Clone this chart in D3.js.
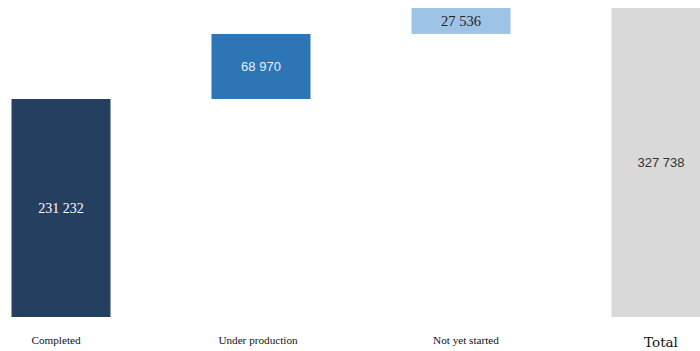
<!DOCTYPE html>
<html>
<head>
<meta charset="utf-8">
<script src="https://cdn.jsdelivr.net/npm/d3@7"></script>
<style>
  html, body { margin: 0; padding: 0; background: #fff; }
  svg { display: block; }
</style>
</head>
<body>
<script>
// Waterfall of units by production status
const categories = ["Completed", "Under production", "Not yet started", "Total"];
const values = [231232, 68970, 27536, 327738];
const isTotal = [false, false, false, true];
const colors = ["#243f60", "#2e75b6", "#9dc3e6", "#d9d9d9"];
const labelColors = ["#ffffff", "#e8eef6", "#222222", "#333333"];
const labelFonts = ["'Liberation Serif', serif", "'Liberation Sans', sans-serif",
                    "'Liberation Serif', serif", "'Liberation Sans', sans-serif"];
const labelSizes = [14, 13, 14.5, 13];

const W = 700, H = 351;
const svg = d3.select("body").append("svg").attr("width", W).attr("height", H);

const x = d3.scaleBand()
  .domain(categories)
  .range([-39, 761])
  .paddingInner(0.505)
  .paddingOuter(0.2525);

const y = d3.scaleLinear()
  .domain([0, d3.max(values)])
  .range([317, 8]);

// running start of each floating bar
let run = 0;
const rows = categories.map((c, i) => {
  const start = isTotal[i] ? 0 : run;
  const end = isTotal[i] ? values[i] : run + values[i];
  if (!isTotal[i]) run = end;
  return { c, i, start, end, v: values[i] };
});

const fmt = v => d3.format(",")(v).replace(/,/g, " ");

svg.selectAll("rect.bar").data(rows).join("rect")
  .attr("class", "bar")
  .attr("x", d => x(d.c))
  .attr("width", x.bandwidth())
  .attr("y", d => y(d.end))
  .attr("height", d => y(d.start) - y(d.end))
  .attr("fill", d => colors[d.i]);

svg.selectAll("text.val").data(rows).join("text")
  .attr("class", "val")
  .attr("x", d => x(d.c) + x.bandwidth() / 2)
  .attr("y", d => (y(d.start) + y(d.end)) / 2)
  .attr("dy", "0.35em")
  .attr("text-anchor", "middle")
  .attr("font-family", d => labelFonts[d.i])
  .attr("font-size", d => labelSizes[d.i])
  .attr("fill", d => labelColors[d.i])
  .text(d => fmt(d.v));

// category labels
const catShift = [-5, -3, 5, 0];
svg.selectAll("text.cat").data(rows).join("text")
  .attr("class", "cat")
  .attr("x", d => x(d.c) + x.bandwidth() / 2 + catShift[d.i])
  .attr("y", d => d.i === 3 ? 347 : 344)
  .attr("text-anchor", "middle")
  .attr("font-family", d => d.i === 3 ? "'DejaVu Serif', serif" : "'Liberation Serif', serif")
  .attr("font-size", d => d.i === 3 ? 13.5 : 11.2)
  .attr("fill", "#111")
  .text(d => d.c);
</script>
</body>
</html>
